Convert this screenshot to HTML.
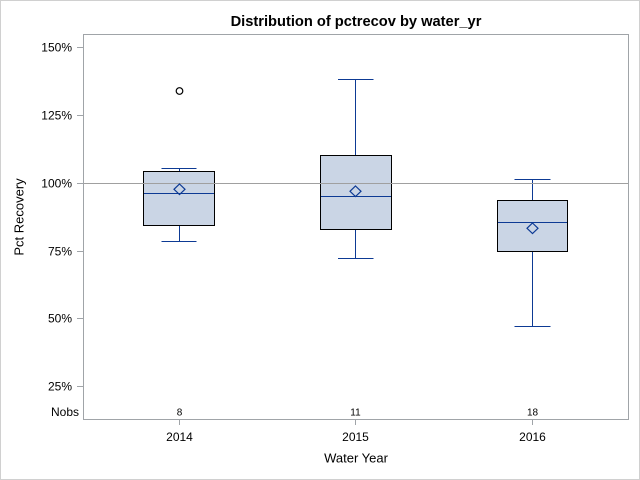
<!DOCTYPE html>
<html>
<head>
<meta charset="utf-8">
<style>
html,body{margin:0;padding:0;background:#fff;}
svg{display:block;}
text{font-family:"Liberation Sans",Arial,sans-serif;fill:#000;}
</style>
</head>
<body>
<svg width="640" height="480" viewBox="0 0 640 480" xmlns="http://www.w3.org/2000/svg">
  <rect x="0" y="0" width="640" height="480" fill="#fff"/>
  <rect x="0.5" y="0.5" width="639" height="479" fill="none" stroke="#d0d0d0" stroke-width="1"/>

  <text x="356" y="26" font-size="14.67" font-weight="bold" text-anchor="middle">Distribution of pctrecov by water_yr</text>

  <!-- reference line -->
  <line x1="84" y1="183.5" x2="628" y2="183.5" stroke="#a0a0a0" stroke-width="1"/>

  <g shape-rendering="crispEdges">
  <!-- 2014 -->
  <line x1="179.5" y1="168.5" x2="179.5" y2="171.5" stroke="#0d3a94"/>
  <line x1="179.5" y1="225.5" x2="179.5" y2="241.5" stroke="#0d3a94"/>
  <line x1="161.5" y1="168.5" x2="196.5" y2="168.5" stroke="#0d3a94"/>
  <line x1="161.5" y1="241.5" x2="196.5" y2="241.5" stroke="#0d3a94"/>
  <rect x="143.5" y="171.5" width="71" height="54" fill="#cad5e5" stroke="#000"/>
  <line x1="144" y1="193.5" x2="214" y2="193.5" stroke="#0d3a94"/>

  <!-- 2015 -->
  <line x1="355.5" y1="79.5" x2="355.5" y2="155.5" stroke="#0d3a94"/>
  <line x1="355.5" y1="229.5" x2="355.5" y2="258.5" stroke="#0d3a94"/>
  <line x1="338" y1="79.5" x2="373.5" y2="79.5" stroke="#0d3a94"/>
  <line x1="338" y1="258.5" x2="373.5" y2="258.5" stroke="#0d3a94"/>
  <rect x="320.5" y="155.5" width="71" height="74" fill="#cad5e5" stroke="#000"/>
  <line x1="321" y1="196.5" x2="391" y2="196.5" stroke="#0d3a94"/>

  <!-- 2016 -->
  <line x1="532.5" y1="179.5" x2="532.5" y2="200.5" stroke="#0d3a94"/>
  <line x1="532.5" y1="251.5" x2="532.5" y2="326.5" stroke="#0d3a94"/>
  <line x1="514.5" y1="179.5" x2="550.5" y2="179.5" stroke="#0d3a94"/>
  <line x1="514.5" y1="326.5" x2="550.5" y2="326.5" stroke="#0d3a94"/>
  <rect x="497.5" y="200.5" width="70" height="51" fill="#cad5e5" stroke="#000"/>
  <line x1="498" y1="222.5" x2="567" y2="222.5" stroke="#0d3a94"/>
  </g>

  <!-- reference line over boxes -->
  <line x1="84" y1="183.5" x2="628" y2="183.5" stroke="#a0a0a0" stroke-width="1" shape-rendering="crispEdges"/>

  <!-- means -->
  <polygon points="179.5,184 185,189.3 179.5,194.6 174,189.3" fill="none" stroke="#0d3a94" stroke-width="1.2"/>
  <polygon points="355.5,186 361,191.3 355.5,196.6 350,191.3" fill="none" stroke="#0d3a94" stroke-width="1.2"/>
  <polygon points="532.5,223 538,228.3 532.5,233.6 527,228.3" fill="none" stroke="#0d3a94" stroke-width="1.2"/>

  <!-- outlier -->
  <circle cx="179.5" cy="91" r="3.3" fill="none" stroke="#000" stroke-width="1.2"/>

  <g shape-rendering="crispEdges">
  <!-- frame -->
  <rect x="83.5" y="34.5" width="545" height="385" fill="none" stroke="#a0a4a8"/>
  <!-- y ticks -->
  <g stroke="#a0a4a8">
    <line x1="77" y1="47.5" x2="83" y2="47.5"/>
    <line x1="77" y1="115.5" x2="83" y2="115.5"/>
    <line x1="77" y1="183.5" x2="83" y2="183.5"/>
    <line x1="77" y1="251.5" x2="83" y2="251.5"/>
    <line x1="77" y1="318.5" x2="83" y2="318.5"/>
    <line x1="77" y1="386.5" x2="83" y2="386.5"/>
    <line x1="179.5" y1="420" x2="179.5" y2="425"/>
    <line x1="355.5" y1="420" x2="355.5" y2="425"/>
    <line x1="532.5" y1="420" x2="532.5" y2="425"/>
  </g>
  </g>

  <g font-size="12" text-anchor="end">
    <text x="72" y="51.5">150%</text>
    <text x="72" y="119.5">125%</text>
    <text x="72" y="187.5">100%</text>
    <text x="72" y="255.5">75%</text>
    <text x="72" y="322.5">50%</text>
    <text x="72" y="390.5">25%</text>
    <text x="79" y="416">Nobs</text>
  </g>

  <g font-size="10" text-anchor="middle">
    <text x="179.5" y="415.3">8</text>
    <text x="355.5" y="415.3">11</text>
    <text x="532.5" y="415.3">18</text>
  </g>

  <g font-size="12" text-anchor="middle">
    <text x="179.5" y="441">2014</text>
    <text x="355.5" y="441">2015</text>
    <text x="532.5" y="441">2016</text>
  </g>

  <text x="356" y="462.6" font-size="13" text-anchor="middle">Water Year</text>
  <text transform="translate(23.5,217) rotate(-90)" x="0" y="0" font-size="13" text-anchor="middle">Pct Recovery</text>
</svg>
</body>
</html>
